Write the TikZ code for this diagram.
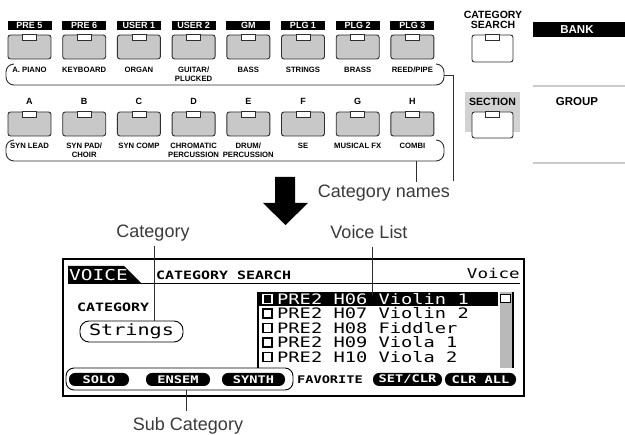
\documentclass[tikz,border=0pt]{standalone}
\usepackage{fontspec}
\setmainfont{Liberation Sans}
\newfontfamily\lcdfont[FakeStretch=1.3]{DejaVu Sans Mono}
\definecolor{btngray}{HTML}{C8C8C8}
\definecolor{ink}{HTML}{2E2E2E}
\definecolor{lbl}{HTML}{3A3A3A}
\definecolor{lightline}{HTML}{CACACA}
\definecolor{secbg}{HTML}{D2D2D2}
\tikzset{
  btn/.style={draw=ink,fill=btngray,line width=0.9pt,rounded corners=2.5pt,minimum width=43pt,minimum height=24pt,inner sep=0pt},
  wbtn/.style={btn,fill=white,minimum width=41pt},
  notchbox/.style={draw=ink,fill=white,line width=0.8pt},
  barlbl/.style={fill=black,text=white,font=\bfseries\fontsize{9}{9.5}\selectfont,minimum width=44pt,minimum height=9.5pt,inner sep=0pt},
  catlbl/.style={font=\bfseries\fontsize{7.7}{8.7}\selectfont,align=center,anchor=north,inner sep=0pt},
  letter/.style={font=\bfseries\fontsize{9}{9.5}\selectfont,inner sep=0pt},
  panellbl/.style={font=\bfseries\fontsize{10.5}{10.5}\selectfont,align=center,inner sep=0pt},
  brk/.style={draw=ink,line width=0.9pt,rounded corners=8pt},
  lead/.style={draw=ink,line width=0.8pt},
  callout/.style={font=\fontsize{18}{20}\selectfont,text=lbl,anchor=base,inner sep=0pt},
  lcdrow/.style={font=\lcdfont\fontsize{14.4}{15}\selectfont,anchor=base west,inner sep=0pt},
  lcdsmall/.style={font=\lcdfont\bfseries\fontsize{11.5}{12}\selectfont,anchor=base west,inner sep=0pt},
  softkey/.style={fill=black,text=white,rounded corners=6pt,font=\lcdfont\bfseries\fontsize{10.5}{11}\selectfont,minimum height=13pt,inner sep=0pt},
}
\begin{document}
\begin{tikzpicture}[x=1pt,y=-1pt]
\useasboundingbox (0,0) rectangle (625,435);
% ---------- top row ----------
\foreach \i/\b/\c in {0/{PRE 5}/{A. PIANO},1/{PRE 6}/{KEYBOARD},2/{USER 1}/{ORGAN},3/{USER 2}/{GUITAR/\\PLUCKED},4/{GM}/{BASS},5/{PLG 1}/{STRINGS},6/{PLG 2}/{BRASS},7/{PLG 3}/{REED/PIPE}}{
  \pgfmathsetmacro\cx{29.5+54.7*\i}
  \node[barlbl] (bar\i) at (\cx,25.5) {\b};
  \node[btn] (ba\i) at (\cx,47) {};
  \draw[notchbox] ([xshift=-7pt]ba\i.north) rectangle ([xshift=7pt,yshift=-6pt]ba\i.north);
  \node[catlbl] (ca\i) at (\cx,67) {\c};
}
% ---------- second row ----------
\foreach \i/\b/\c in {0/A/{SYN LEAD},1/B/{SYN PAD/\\CHOIR},2/C/{SYN COMP},3/D/{CHROMATIC\\PERCUSSION},4/E/{DRUM/\\PERCUSSION},5/F/{SE},6/G/{MUSICAL FX},7/H/{COMBI}}{
  \pgfmathsetmacro\cx{29.5+54.7*\i}
  \node[letter] (let\i) at (\cx,101) {\b};
  \node[btn] (bb\i) at (\cx,124) {};
  \draw[notchbox] ([xshift=-7pt]bb\i.north) rectangle ([xshift=7pt,yshift=-6pt]bb\i.north);
  \node[catlbl] (cb\i) at (\cx,143) {\c};
}
% brackets
\draw[brk] (14,64) -- (6,64) -- (6,85) -- (444,85) -- (444,64) -- (436,64);
\draw[brk] (14,140) -- (6,140) -- (6,161) -- (444,161) -- (444,140) -- (436,140);
\coordinate (b1r) at (444,75);
\coordinate (cn1) at (453,181);
\draw[lead] (b1r) -| (cn1);
\coordinate (b2b) at (416,161);
\coordinate (cn2) at (416,182);
\draw[lead] (b2b) -- (cn2);
\node[callout] (catnames) at (384,198) {Category names};
% ---------- right panel ----------
\node[panellbl] (cslbl) at (493,20) {CATEGORY\\SEARCH};
\node[wbtn,minimum height=27pt] (csbtn) at (492.5,48.5) {};
\draw[notchbox] ([xshift=-7pt]csbtn.north) rectangle ([xshift=7pt,yshift=-6pt]csbtn.north);
\fill[secbg] (465,92) rectangle (520,132);
\node[panellbl] (seclbl) at (492.5,102) {SECTION};
\node[wbtn,minimum height=26pt] (secbtn) at (492.5,125) {};
\draw[notchbox] ([xshift=-7pt]secbtn.north) rectangle ([xshift=7pt,yshift=-6pt]secbtn.north);
\fill[black] (533,22) rectangle (625,37);
\node[panellbl,text=white,font=\bfseries\fontsize{11.5}{12}\selectfont] (bank) at (577,29.5) {BANK};
\draw[lightline,line width=2.5pt] (533,86) -- (625,86);
\node[panellbl,font=\bfseries\fontsize{11.5}{12}\selectfont] (group) at (577,102) {GROUP};
\draw[lightline,line width=2.5pt] (533,163) -- (625,163);
% ---------- big arrow ----------
\fill[black] (275,177) -- (295,177) -- (295,203) -- (308,203) -- (285.5,225) -- (263,203) -- (275,203) -- cycle;
% ---------- LCD ----------
\draw[line width=1.3pt] (63,259) rectangle (524,396);
\fill[black] (68,266) -- (124,266) -- (142,284) -- (68,284) -- cycle;
\node[font=\lcdfont\fontsize{15}{16}\selectfont,text=white,anchor=base west,inner sep=0pt] (voicetab) at (69,280.5) {VOICE};
\draw[line width=1.6pt] (68,283.5) -- (520,283.5);
\node[lcdsmall] (cshead) at (156,279.5) {CATEGORY SEARCH};
\node[font=\lcdfont\fontsize{13.5}{14}\selectfont,anchor=base east,inner sep=0pt] (voicehd) at (520,279) {Voice};
\node[lcdsmall] (catfield) at (77,312) {CATEGORY};
\node[draw,line width=0.9pt,rounded corners=9pt,minimum width=103pt,minimum height=21pt,inner sep=0pt,font=\lcdfont\fontsize{15.5}{16}\selectfont] (strings) at (131.5,331.5) {Strings};
% voice list
\begin{scope}
  \clip (257,292) rectangle (514,368);
  \fill[black] (258,292) rectangle (498,306.5);
  \draw[white,line width=1.2pt] (263,294.5) rectangle (272,303.5);
  \node[lcdrow,text=white] (row0) at (277,304.2) {PRE2 H06 Violin 1};
  \foreach \k/\t in {1/{PRE2 H07 Violin 2},2/{PRE2 H08 Fiddler},3/{PRE2 H09 Viola 1},4/{PRE2 H10 Viola 2}}{
    \pgfmathsetmacro\ry{299+14.5*\k}
    \draw[black,line width=1.2pt] (263,\ry-4.5) rectangle (272,\ry+4.5);
    \node[lcdrow] (row\k) at (277,\ry+5.2) {\t};
  }
  \fill[gray!55] (499.5,292) rectangle (511.5,368);
  \draw[fill=white,line width=0.8pt] (500.5,294) rectangle (510.5,302);
\end{scope}
\draw[line width=1.8pt] (258,292) -- (258,368);
\draw[line width=1.8pt] (513,292) -- (513,368);
% soft keys
\node[softkey,minimum width=60pt] (sk1) at (99,379.5) {SOLO};
\node[softkey,minimum width=64pt] (sk2) at (178,379.5) {ENSEM};
\node[softkey,minimum width=63pt] (sk3) at (253.5,379.5) {SYNTH};
\node[font=\lcdfont\bfseries\fontsize{10.5}{11}\selectfont,inner sep=0pt] (sk4) at (330,379.5) {FAVORITE};
\node[softkey,minimum width=69pt] (sk5) at (407.5,379.5) {SET/CLR};
\node[softkey,minimum width=71pt] (sk6) at (480.5,379.5) {CLR ALL};
\draw[line width=0.9pt,rounded corners=8pt] (66,368) rectangle (293,390);
% callouts
\node[callout] (catlab) at (153,238) {Category};
\draw[lead] (154,246) -- (154,321);
\node[callout] (vlist) at (369,239) {Voice List};
\draw[lead] (372,247) -- (372,295);
\node[callout] (subcat) at (188,431) {Sub Category};
\coordinate (scb) at (186,390);
\draw[lead] (scb) -- (186,411);
\end{tikzpicture}
\end{document}
